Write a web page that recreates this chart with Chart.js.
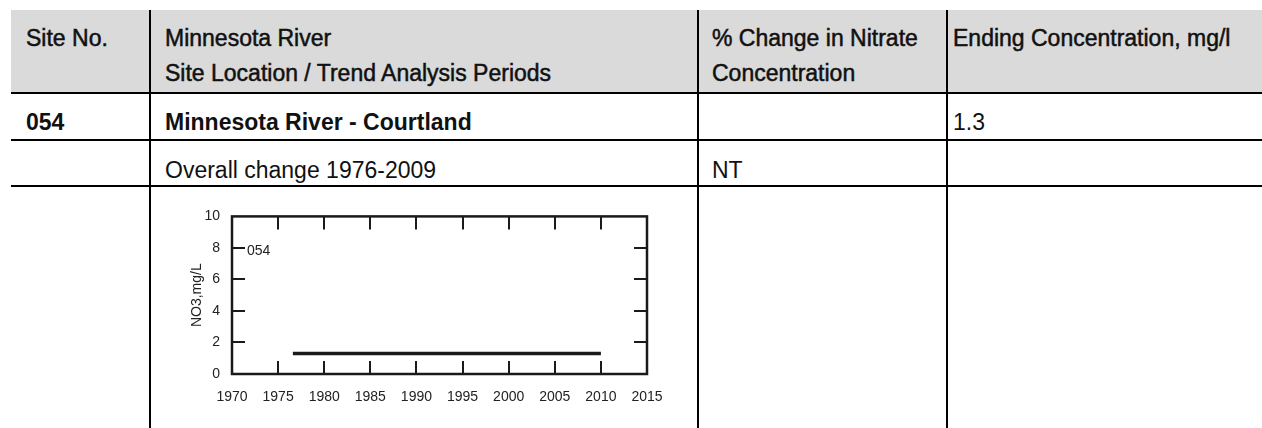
<!DOCTYPE html>
<html>
<head>
<meta charset="utf-8">
<script src="https://cdn.jsdelivr.net/npm/chart.js@4"></script>
<style>
  html, body { margin: 0; padding: 0; background: #fff; }
  body { width: 1262px; height: 428px; position: relative; overflow: hidden;
         font-family: "Liberation Sans", Arial, sans-serif; color: #111; }
  .hdr { position: absolute; left: 11px; top: 10px; width: 1251px; height: 82px; background: #dadada; }
  .hl { position: absolute; left: 11px; width: 1251px; height: 2px; background: #000; }
  .vl { position: absolute; top: 10px; width: 2px; height: 418px; background: #000; }
  .txt { position: absolute; white-space: nowrap; }
  .th { font-size: 23px; line-height: 35px; -webkit-text-stroke: 0.5px #111; }
  .td { font-size: 23px; line-height: 30px; }
  .b { font-weight: bold; }
  #chartBox { position: absolute; left: 170px; top: 204px; width: 500px; height: 200px; }
</style>
</head>
<body>
<div class="hdr"></div>
<div id="grid"></div>
<div id="cells"></div>
<div id="chartBox"><canvas id="no3Chart"></canvas></div>

<script>
// table text
const headers = [
  ['Site No.'],
  ['Minnesota River', 'Site Location / Trend Analysis Periods'],
  ['% Change in Nitrate', 'Concentration'],
  ['Ending Concentration, mg/l']
];
const siteRow = ['054', 'Minnesota River - Courtland', '', '1.3'];
const periodRow = ['', 'Overall change 1976-2009', 'NT', ''];

// chart data
const siteLabel = '054';
const trendYears = [1976.6, 2010];
const trendNO3 = [1.3, 1.3];
const xMin = 1970, xMax = 2015, xStep = 5;
const yMin = 0, yMax = 10, yStep = 2;

// table lines / cells
const colX = [26, 165, 712, 953];
const vLines = [149, 697, 946];
const hLines = [92, 139, 185];

const grid = document.getElementById('grid');
hLines.forEach(t => {
  const d = document.createElement('div');
  d.className = 'hl'; d.style.top = t + 'px';
  grid.appendChild(d);
});
vLines.forEach(l => {
  const d = document.createElement('div');
  d.className = 'vl'; d.style.left = l + 'px';
  grid.appendChild(d);
});

const cells = document.getElementById('cells');
function addText(text, x, y, cls) {
  if (!text) return;
  const d = document.createElement('div');
  d.className = 'txt ' + cls;
  d.style.left = x + 'px';
  d.style.top = y + 'px';
  d.innerHTML = text;
  cells.appendChild(d);
}
headers.forEach((lines, i) => addText(lines.join('<br>'), colX[i], 21, 'th'));
siteRow.forEach((t, i) => addText(t, colX[i], 107, 'td' + (i < 2 ? ' b' : '')));
periodRow.forEach((t, i) => addText(t, colX[i], 154.5, 'td'));

// inner ticks all round + box + site label
const TICK = 13;
const frameTicks = {
  id: 'frameTicks',
  afterDatasetsDraw(chart) {
    const { ctx, chartArea: a, scales: { x, y } } = chart;
    ctx.save();
    ctx.strokeStyle = '#1a1a1a';
    ctx.lineWidth = 2;
    ctx.beginPath();
    x.ticks.forEach(t => {
      if (t.value <= x.min || t.value >= x.max) return;
      const px = Math.round(x.getPixelForValue(t.value));
      ctx.moveTo(px, a.top); ctx.lineTo(px, a.top + TICK);
      ctx.moveTo(px, a.bottom); ctx.lineTo(px, a.bottom - TICK);
    });
    y.ticks.forEach(t => {
      if (t.value <= y.min || t.value >= y.max) return;
      const py = Math.round(y.getPixelForValue(t.value));
      ctx.moveTo(a.left, py); ctx.lineTo(a.left + TICK, py);
      ctx.moveTo(a.right, py); ctx.lineTo(a.right - TICK, py);
    });
    ctx.stroke();
    ctx.lineWidth = 2.5;
    ctx.strokeRect(a.left, a.top, a.width, a.height);

    ctx.fillStyle = '#222';
    ctx.font = '14px "Liberation Sans", sans-serif';
    ctx.textBaseline = 'middle';
    ctx.fillText(siteLabel, a.left + TICK + 2, y.getPixelForValue(8) + 3);
    ctx.restore();
  }
};

const chartFont = { family: '"Liberation Sans", sans-serif', size: 14 };

new Chart(document.getElementById('no3Chart'), {
  type: 'line',
  data: {
    datasets: [{
      data: trendYears.map((yr, i) => ({ x: yr, y: trendNO3[i] })),
      borderColor: '#1a1a1a',
      borderWidth: 3.5,
      pointRadius: 0,
      fill: false
    }]
  },
  options: {
    responsive: true,
    maintainAspectRatio: false,
    animation: false,
    layout: { padding: { top: 10, right: 23, bottom: 0, left: 0 } },
    plugins: { legend: { display: false }, tooltip: { enabled: false } },
    scales: {
      x: {
        type: 'linear',
        min: xMin, max: xMax,
        grid: { display: false },
        border: { display: false },
        ticks: { stepSize: xStep, color: '#222', font: chartFont, padding: 7,
                 maxRotation: 0, callback: v => String(v) },
        afterFit: s => { s.height = 30; }
      },
      y: {
        min: yMin, max: yMax,
        grid: { display: false },
        border: { display: false },
        ticks: { stepSize: yStep, color: '#222', font: chartFont, padding: 4 },
        title: { display: true, text: 'NO3,mg/L', color: '#222',
                 font: { family: chartFont.family, size: 14 }, padding: { top: 19, bottom: 0 } },
        afterFit: s => { s.width = 62; }
      }
    }
  },
  plugins: [frameTicks]
});
</script>
</body>
</html>
